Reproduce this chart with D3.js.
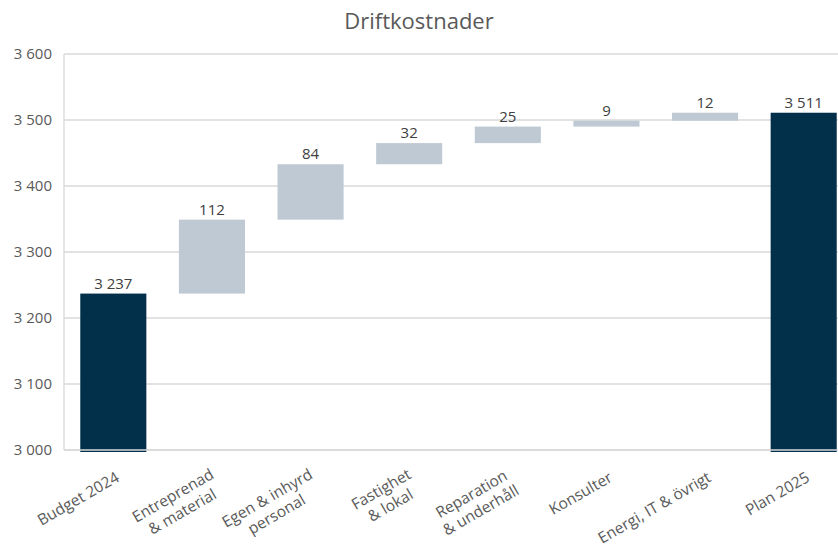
<!DOCTYPE html>
<html><head><meta charset="utf-8">
<script src="https://cdn.jsdelivr.net/npm/d3@7"></script>
<style>body{margin:0;background:#fff}svg{display:block}text{font-family:"Open Sans",sans-serif}</style>
</head><body><svg id="c" width="838" height="546"></svg>
<script>
const categories = [["Budget 2024"],["Entreprenad","& material"],["Egen & inhyrd","personal"],["Fastighet","& lokal"],["Reparation","& underhåll"],["Konsulter"],["Energi, IT & övrigt"],["Plan 2025"]];
const startValue = 3237;
const deltas = [112, 84, 32, 25, 9, 12];
const endValue = 3511;
const yTicks = [3000, 3100, 3200, 3300, 3400, 3500, 3600];
const title = "Driftkostnader";

const fmt = v => String(v).replace(/\B(?=(\d{3})+(?!\d))/g, " ");
const bars = [];
bars.push({i:0, y0:3000, y1:startValue, label:startValue, total:true});
let run = startValue;
deltas.forEach((d,k)=>{bars.push({i:k+1, y0:run, y1:run+d, label:d, total:false}); run+=d;});
bars.push({i:7, y0:3000, y1:endValue, label:endValue, total:true});

const svg = d3.select("#c");
const x = d3.scaleBand().domain(d3.range(categories.length)).range([64, 853]).paddingInner(0.33).paddingOuter(0.165);
const y = d3.scaleLinear().domain([3000, 3600]).range([450, 54]);

svg.append("text").attr("x", 419).attr("y", 29).attr("text-anchor","middle")
  .attr("font-size", 22).attr("fill","#595959").text(title);

const grid = svg.append("g");
yTicks.forEach(t=>{
  grid.append("line").attr("x1",64).attr("x2",853).attr("y1",y(t)).attr("y2",y(t))
    .attr("stroke","#d9d9d9").attr("stroke-width",1.3);
  svg.append("text").attr("x",52).attr("y",y(t)).attr("dy","0.35em").attr("text-anchor","end")
    .attr("font-size",15).attr("fill","#595959").text(fmt(t));
});
grid.append("line").attr("x1",64).attr("x2",64).attr("y1",y(3600)).attr("y2",y(3000)).attr("stroke","#d9d9d9").attr("stroke-width",1.3);

svg.append("g").selectAll("rect").data(bars).join("rect")
  .attr("x", d=>x(d.i)).attr("width", x.bandwidth())
  .attr("y", d=>y(Math.max(d.y0,d.y1)))
  .attr("height", d=>Math.abs(y(d.y0)-y(d.y1)) + (d.total?2:0))
  .attr("fill", d=>d.total?"#02304b":"#bfc9d4");

svg.append("line").attr("x1",64).attr("x2",853).attr("y1",y(3000)).attr("y2",y(3000)).attr("stroke","#d9d9d9").attr("stroke-width",1.3);

svg.append("g").selectAll("text").data(bars).join("text")
  .attr("x", d=>x(d.i)+x.bandwidth()/2).attr("y", d=>y(Math.max(d.y0,d.y1))-5)
  .attr("text-anchor","middle").attr("font-size",15).attr("fill","#404040").text(d=>fmt(d.label));

const fs = 15.5;
const lab = svg.append("g").selectAll("g").data(categories).join("g")
  .attr("transform",(d,i)=>`translate(${x(i)+x.bandwidth()/2+(d.length>1?-3:1)},${d.length>1?467:470}) rotate(-30)`);
lab.each(function(d){
  const g = d3.select(this);
  const texts = d.map((s,k)=>g.append("text").attr("font-size",fs).attr("fill","#595959")
      .attr("text-anchor","middle").attr("y", k*fs*1.2).attr("dy","0.78em").text(s));
  const w = d3.max(texts, t=>t.node().getComputedTextLength());
  texts.forEach(t=>t.attr("x", -w/2));
});
</script></body></html>
